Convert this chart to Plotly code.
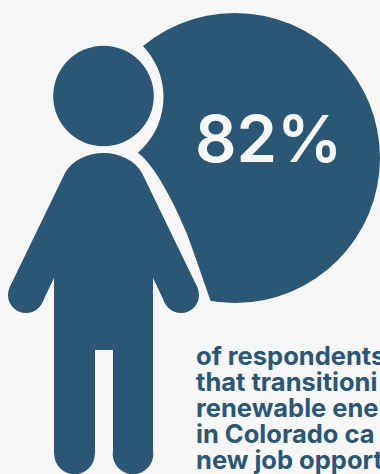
import plotly.graph_objects as go

percent_value = 82
text_lines = ["of respondents", "that transitioni", "renewable ene", "in Colorado ca", "new job opport"]
NAVY = "#2b5674"
BG = "#f7f7f7"
FONT = "Inter, sans-serif"


def circle(cx, cy, r, color):
    return dict(type="circle", xref="x", yref="y", x0=cx - r, x1=cx + r, y0=cy - r, y1=cy + r,
                fillcolor=color, line=dict(width=0))


def path(d, color):
    return dict(type="path", xref="x", yref="y", path=d, fillcolor=color, line=dict(width=0))


shapes = [
    circle(235, 158, 145, NAVY),
    circle(90, 97, 73.5, BG),
    path("M138 153 C155 165 175 205 187 234 C196 258 203 280 211 302 L211 325 L100 325 L100 153 Z", BG),
    circle(103.5, 96, 50.3, NAVY),
    path("M65 173 C72 160 88 153 103.5 153 C119 153 135 160 142 173 L197.2 287 L164.8 302.8 L153 278 "
         "L153 454 L113 454 L113 350 L95 350 L95 454 L54 454 L54 278 L42.2 302.8 L9.8 287 Z", NAVY),
    circle(26, 295, 18, NAVY),
    circle(181, 295, 18, NAVY),
    circle(74.5, 454, 20.3, NAVY),
    circle(133, 454, 20.3, NAVY),
]

annotations = [dict(x=268, y=138, xref="x", yref="y", text=f"{percent_value}%", showarrow=False,
                    font=dict(family=FONT, size=65, color=BG, weight=600), xanchor="center", yanchor="middle")]
for i, line in enumerate(text_lines):
    annotations.append(dict(x=194, y=355 + 26 * i, xref="x", yref="y", text=line, showarrow=False,
                            font=dict(family=FONT, size=25.5, color=NAVY, weight=700), xanchor="left", yanchor="middle"))

fig = go.Figure()
fig.update_layout(
    width=380, height=474, margin=dict(l=0, r=0, t=0, b=0),
    paper_bgcolor=BG, plot_bgcolor=BG, showlegend=False,
    xaxis=dict(range=[0, 380], visible=False, fixedrange=True),
    yaxis=dict(range=[474, 0], visible=False, fixedrange=True),
    shapes=shapes, annotations=annotations,
)
fig.write_html("out.html", config=dict(displayModeBar=False),
               post_script="document.body.style.margin='0';document.body.style.overflow='hidden';")
